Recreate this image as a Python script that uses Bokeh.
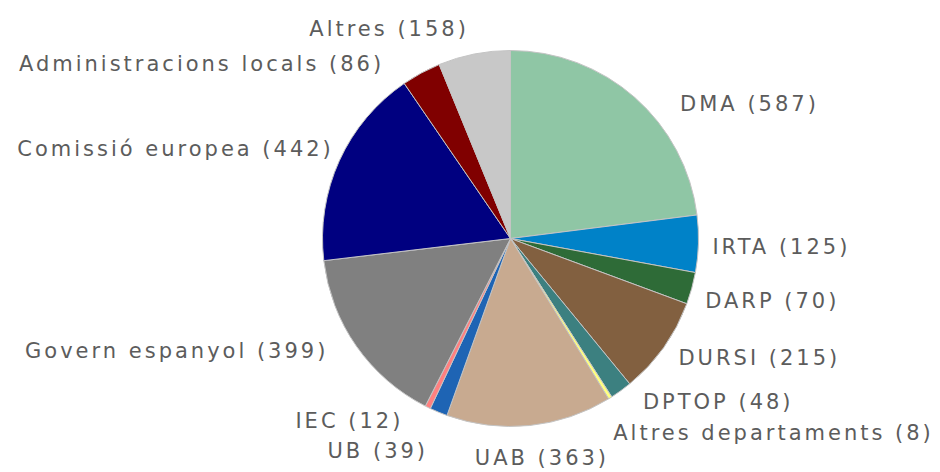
import math
from bokeh.plotting import figure
from bokeh.models import Range1d, ColumnDataSource, InlineStyleSheet
from bokeh.core.properties import value
from bokeh.embed import file_html
from bokeh.resources import INLINE

categories = ["DMA", "IRTA", "DARP", "DURSI", "DPTOP", "Altres departaments",
              "UAB", "UB", "IEC", "Govern espanyol", "Comissió europea",
              "Administracions locals", "Altres"]
values = [587, 125, 70, 215, 48, 8, 363, 39, 12, 399, 442, 86, 158]
colors = ["#8fc6a5", "#0082c8", "#2e6b37", "#826040", "#3c8080", "#ffff80",
          "#c8aa90", "#1e64b4", "#ff8080", "#808080", "#000080", "#800000", "#c8c8c8"]

# label nudges (pixels, screen: +x right, +y down)
label_dx = [34, -3, -3, 1, 12, -6, 9, -7, -20, -17, 7, -32, -5]
label_dy = [19, 3, 8, 1, -2, 21, 16, 23, -2, -5, -5, 6, -8]

W, H = 940, 472
cx, cy = 510, H - 238
R = 188
LR = 205
LS = 3  # letter spacing in px

total = sum(values)
starts, ends, lx, ly, la, texts = [], [], [], [], [], []
cum = 0
for i, v in enumerate(values):
    t0 = cum / total * 2 * math.pi
    t1 = (cum + v) / total * 2 * math.pi
    cum += v
    starts.append(math.pi / 2 - t0)
    ends.append(math.pi / 2 - t1)
    tm = (t0 + t1) / 2
    s, c = math.sin(tm), math.cos(tm)
    txt = f"{categories[i]} ({v})"
    x = cx + LR * s + label_dx[i]
    if s > 0.15:
        a = "left"
    elif s < -0.15:
        a = "right"
        x -= LS * (len(txt) - 1)
    else:
        a = "center"
        x -= LS * (len(txt) - 1) / 2
    lx.append(x)
    ly.append(cy + LR * c - label_dy[i])
    la.append(a)
    texts.append(txt)

src = ColumnDataSource(dict(start=starts, end=ends, color=colors))
lsrc = ColumnDataSource(dict(x=lx, y=ly, text=texts, align=la))

p = figure(width=W, height=H, output_backend="svg", toolbar_location=None,
           x_range=Range1d(0, W), y_range=Range1d(0, H),
           min_border=0, min_border_left=0, min_border_right=0,
           min_border_top=0, min_border_bottom=0)
p.axis.visible = False
p.grid.visible = False
p.outline_line_color = None
p.background_fill_color = "white"
p.stylesheets = [InlineStyleSheet(css=f":host {{ letter-spacing: {LS}px; }}")]

p.wedge(x=cx, y=cy, radius=R, start_angle="start", end_angle="end",
        direction="clock", fill_color="color", line_color="#c4c4c4",
        line_width=1, source=src)

p.text(x="x", y="y", text="text", text_align="align", text_baseline="middle",
       text_font=value("DejaVu Sans"), text_font_size="21px",
       text_color="#5c5c5c", source=lsrc)

open("out.html", "w").write(file_html(p, INLINE))
